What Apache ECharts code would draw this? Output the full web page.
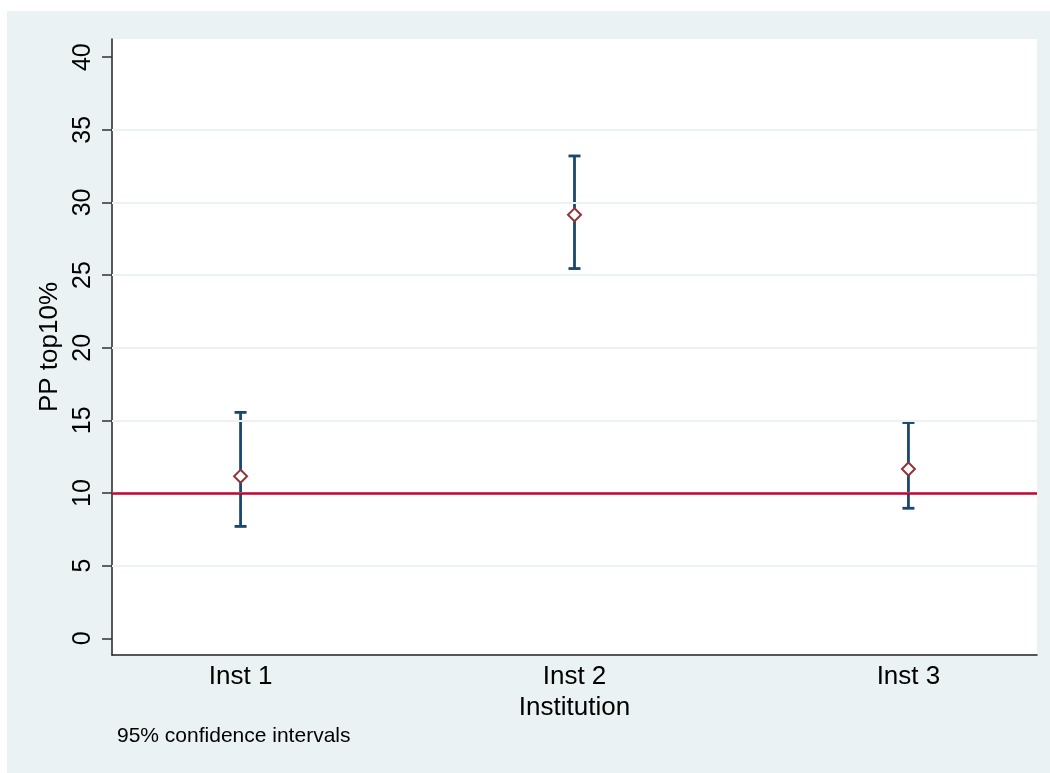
<!DOCTYPE html>
<html><head><meta charset="utf-8">
<script src="https://cdn.jsdelivr.net/npm/echarts@6/dist/echarts.min.js"></script>
<style>
html,body{margin:0;padding:0;background:#fff;width:1050px;height:773px;overflow:hidden}
#chart{position:absolute;left:7px;top:11px;width:1043px;height:762px;background:#eaf2f3}
</style></head><body><div id="chart"></div>
<script>
const institutions = ['Inst 1', 'Inst 2', 'Inst 3'];
const positions = [1, 2, 3];
const estimates = [11.15, 29.15, 11.65];
const lowerCI = [7.7, 25.45, 8.95];
const upperCI = [15.55, 33.2, 14.85];
const yTicks = [0, 5, 10, 15, 20, 25, 30, 35, 40];
const referenceValue = 10;
const noteText = '95% confidence intervals';

const FONT = 'Liberation Sans, Arial, Helvetica, sans-serif';
const gridValues = yTicks.slice(1, -1);

const chart = echarts.init(document.getElementById('chart'), null, {renderer: 'canvas'});
chart.setOption({
  backgroundColor: 'transparent',
  animation: false,
  textStyle: {fontFamily: FONT, color: '#000'},
  grid: {left: 105, top: 28, right: 13, bottom: 118, show: true, backgroundColor: '#ffffff', borderWidth: 0},
  xAxis: {
    type: 'value', min: 0.615, max: 3.385,
    axisLine: {show: true, onZero: false, lineStyle: {color: '#222', width: 1.5}},
    axisTick: {show: false},
    splitLine: {show: false},
    axisLabel: {
      customValues: positions,
      formatter: v => institutions[positions.indexOf(v)] || '',
      fontSize: 26, color: '#000', margin: 9, fontFamily: FONT
    },
    name: 'Institution', nameLocation: 'middle', nameGap: 36,
    nameTextStyle: {fontSize: 26, color: '#000', fontFamily: FONT}
  },
  yAxis: {
    type: 'value', min: -1.15, max: 41.25,
    axisLine: {show: true, onZero: false, lineStyle: {color: '#222', width: 1.5}},
    axisTick: {show: true, customValues: yTicks, length: 10, lineStyle: {color: '#333', width: 1.5}},
    splitLine: {show: false},
    axisLabel: {
      customValues: yTicks, rotate: 90, fontSize: 25, color: '#000', margin: 16, fontFamily: FONT
    },
    name: 'PP top10%', nameLocation: 'middle', nameGap: 47, nameRotate: 90,
    nameTextStyle: {fontSize: 26, color: '#000', fontFamily: FONT}
  },
  graphic: [{
    type: 'text', left: 110, top: 715,
    style: {text: noteText, font: '21px ' + FONT, fill: '#000'}
  }],
  series: [
    {
      type: 'line', data: [], z: 1, silent: true,
      markLine: {
        silent: true, symbol: ['none', 'none'], label: {show: false},
        lineStyle: {color: '#eaf2f3', width: 2, type: 'solid'},
        data: gridValues.map(v => ({yAxis: v}))
      }
    },
    {
      type: 'line', data: [], z: 2, silent: true,
      markLine: {
        silent: true, symbol: ['none', 'none'], label: {show: false},
        lineStyle: {color: '#c10534', width: 2.5, type: 'solid'},
        data: [{yAxis: referenceValue}]
      }
    },
    {
      type: 'custom', z: 3,
      data: positions.map((p, i) => [p, lowerCI[i], upperCI[i]]),
      encode: {x: 0, y: [1, 2]},
      renderItem: function (params, api) {
        const x = api.value(0);
        const lo = api.coord([x, api.value(1)]);
        const hi = api.coord([x, api.value(2)]);
        const cap = 6;
        const style = {stroke: '#1a476f', lineWidth: 2.8};
        return {type: 'group', children: [
          {type: 'line', shape: {x1: lo[0], y1: lo[1], x2: hi[0], y2: hi[1]}, style: style},
          {type: 'line', shape: {x1: hi[0] - cap, y1: hi[1], x2: hi[0] + cap, y2: hi[1]}, style: style},
          {type: 'line', shape: {x1: lo[0] - cap, y1: lo[1], x2: lo[0] + cap, y2: lo[1]}, style: style}
        ]};
      }
    },
    {
      type: 'scatter', z: 4,
      data: positions.map((p, i) => [p, estimates[i]]),
      symbol: 'diamond', symbolSize: [13, 13],
      itemStyle: {color: '#ffffff', borderColor: '#90353b', borderWidth: 2, opacity: 1}
    }
  ]
});
</script></body></html>
